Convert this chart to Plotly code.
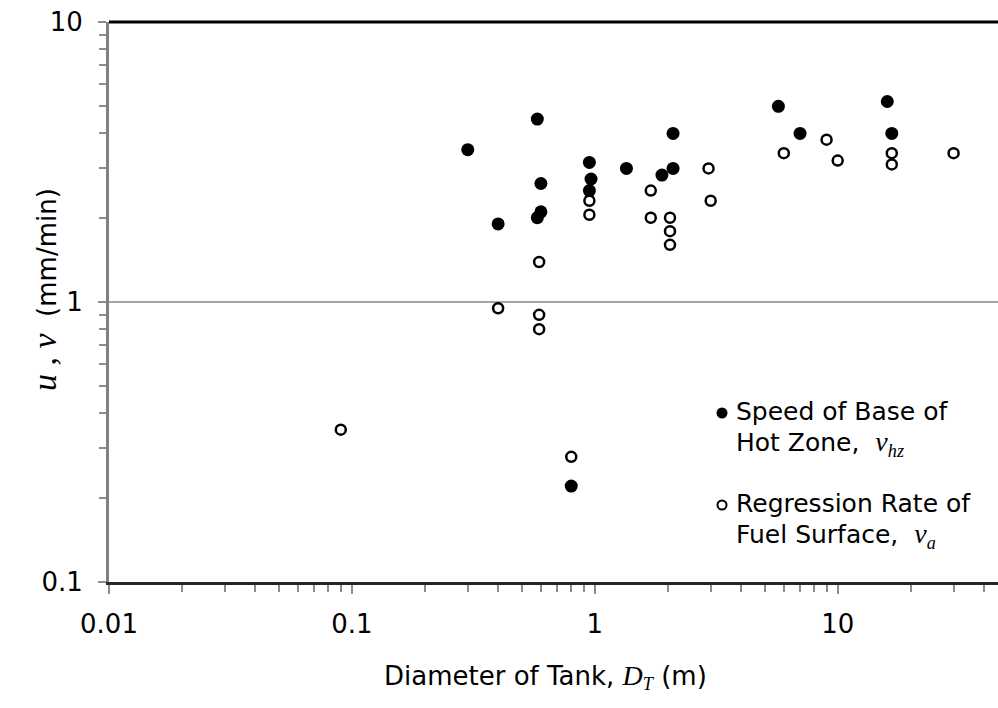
import plotly.graph_objects as go

# Speed of base of hot zone (filled)
hz_diam = [0.3, 0.4, 0.58, 0.58, 0.6, 0.6, 0.95, 0.965, 0.95, 1.35, 1.89, 2.1, 2.1, 5.7, 7.0, 16.0, 16.7, 0.8]
hz_speed = [3.5, 1.9, 4.5, 2.0, 2.1, 2.65, 3.15, 2.75, 2.5, 3.0, 2.84, 4.0, 3.0, 5.0, 4.0, 5.2, 4.0, 0.22]

# Regression rate of fuel surface (open)
va_diam = [0.09, 0.4, 0.59, 0.59, 0.59, 0.95, 0.95, 1.7, 1.7, 2.04, 2.04, 2.04, 2.94, 3.0, 6.0, 9.0, 10.0, 16.7, 16.7, 30.0, 0.8]
va_rate = [0.35, 0.95, 1.39, 0.90, 0.80, 2.30, 2.05, 2.5, 2.0, 2.0, 1.79, 1.60, 3.0, 2.3, 3.4, 3.8, 3.2, 3.4, 3.1, 3.4, 0.28]

x_ticks = [0.01, 0.1, 1, 10]
x_ticktext = ["0.01", "0.1", "1", "10"]
y_ticks = [0.1, 1, 10]
y_ticktext = ["0.1", "1", "10"]

x_minor = [m * 10 ** e for e in range(-2, 2) for m in range(2, 10)]
y_minor = [m * 10 ** e for e in range(-1, 1) for m in range(2, 10)]

SERIF = "'Liberation Serif', 'Times New Roman', serif"
SANS = "DejaVu Sans"
FS = 26

# plot-area pixel geometry (for legend placement in paper coords)
L, R, T, B = 109, 998, 22, 582
def px(x):
    return (x - L) / (R - L)
def py(y):
    return (B - y) / (B - T)

def big(s):
    return f"<span style=\"font-size:25px\">{s}</span>"

def vsym(sub):
    return (f"<span style=\"font-family:{SERIF};font-size:28px\"><i>v</i></span>"
            f"<span style=\"font-family:{SERIF};font-size:26px\"><sub><i>{sub}</i></sub></span>")

legend_items = [
    (big("Speed of Base of") + "<br>" + big("Hot Zone,  ") + vsym("hz"), 413),
    (big("Regression Rate of") + "<br>" + big("Fuel Surface,  ") + vsym("a"), 505),
]

fig = go.Figure()
fig.add_trace(go.Scatter(
    x=hz_diam, y=hz_speed, mode="markers", name="Speed of Base of Hot Zone",
    marker=dict(symbol="circle", size=13, color="black", line=dict(width=0)),
))
fig.add_trace(go.Scatter(
    x=va_diam, y=va_rate, mode="markers", name="Regression Rate of Fuel Surface",
    marker=dict(symbol="circle", size=10, color="white", line=dict(width=2.5, color="black")),
))

annotations = [
    dict(xref="paper", yref="paper", x=px(545), y=py(677), showarrow=False,
         xanchor="center", yanchor="middle",
         text=("Diameter of Tank, "
               f"<span style=\"font-family:{SERIF};font-size:28px\"><i>D</i></span>"
               f"<span style=\"font-family:{SERIF};font-size:26px\"><sub><i>T</i></sub></span> (m)"),
         font=dict(family=SANS, size=FS)),
    dict(xref="paper", yref="paper", x=px(44), y=py(290), showarrow=False,
         textangle=-90, xanchor="center", yanchor="middle",
         text=(f"<span style=\"font-family:{SERIF};font-size:34px\"><i>u</i> , <i>v</i></span>"
               "  (mm/min)"),
         font=dict(family=SANS, size=FS)),
]
for txt, ytop in legend_items:
    annotations.append(dict(xref="paper", yref="paper", x=px(734), y=py(ytop + 16), showarrow=False,
                            xanchor="left", yanchor="middle", align="left", text=txt,
                            font=dict(family=SANS, size=24)))

shapes = [
    dict(type="line", xref="paper", yref="paper", x0=0, x1=1, y0=1, y1=1,
         line=dict(color="black", width=3)),
    dict(type="circle", xref="paper", yref="paper",
         x0=px(716.5), x1=px(727.5), y0=py(418.5), y1=py(407.5),
         fillcolor="black", line=dict(color="black", width=0)),
    dict(type="circle", xref="paper", yref="paper",
         x0=px(717.5), x1=px(726.5), y0=py(509.5), y1=py(500.5),
         fillcolor="white", line=dict(color="black", width=2)),
]

fig.update_layout(
    width=998, height=708,
    margin=dict(l=L, r=998 - R, t=T, b=708 - B, pad=0),
    paper_bgcolor="white", plot_bgcolor="white",
    font=dict(family=SANS, size=FS, color="black"),
    showlegend=False,
    xaxis=dict(
        type="log", range=[-2, 1.66],
        tickmode="array", tickvals=x_ticks, ticktext=x_ticktext,
        ticks="outside", ticklen=9, tickwidth=2, tickcolor="#8c8c8c",
        showline=True, linecolor="#262626", linewidth=3,
        showgrid=False, zeroline=False, ticklabelstandoff=8,
        tickfont=dict(family=SANS, size=FS),
        minor=dict(tickmode="array", tickvals=x_minor, ticks="outside", ticklen=7,
                   tickwidth=2, tickcolor="#8c8c8c", showgrid=False),
    ),
    yaxis=dict(
        type="log", range=[-1, 1],
        tickmode="array", tickvals=y_ticks, ticktext=y_ticktext,
        ticks="outside", ticklen=8, tickwidth=2, tickcolor="#8c8c8c",
        showline=True, linecolor="#808080", linewidth=3,
        showgrid=True, gridcolor="#a6a6a6", gridwidth=2, zeroline=False,
        ticklabelstandoff=10,
        tickfont=dict(family=SANS, size=FS),
        minor=dict(tickmode="array", tickvals=y_minor, ticks="outside", ticklen=7,
                   tickwidth=2, tickcolor="#8c8c8c", showgrid=False),
    ),
    shapes=shapes,
    annotations=annotations,
)

fig.write_html("out.html")
